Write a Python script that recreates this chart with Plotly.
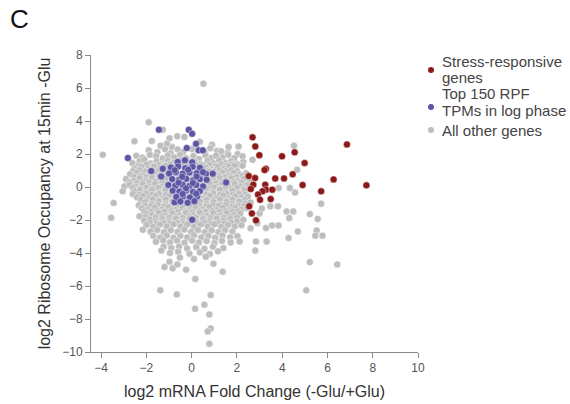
import plotly.graph_objects as go

# log2 mRNA fold change (x) vs log2 ribosome occupancy change (y)
stress_pts = [
    (2.69, 3.01), (2.81, 2.46), (2.99, 1.93), (6.86, 2.58), (3.99, 1.86), (4.55, 2.10),
    (4.99, 1.45), (3.28, 1.11), (3.22, 1.03), (2.52, 0.66), (2.80, 0.54), (3.69, 0.52),
    (4.08, 0.52), (4.46, 0.77), (6.27, 0.46), (7.72, 0.10), (4.90, 0.12), (2.72, 0.14),
    (3.25, 0.14), (2.61, -0.12), (3.28, -0.16), (3.56, -0.16), (3.13, -0.26), (2.93, -0.45),
    (5.72, -0.26), (3.49, -0.73), (3.02, -0.77), (2.54, -1.17), (2.66, -1.60), (2.84, -2.02),
]

top150_pts = [
    (-2.82, 1.76), (-1.45, 3.47), (-0.13, 3.47), (0.02, 3.23), (0.19, 2.62), (-0.22, 2.36),
    (0.31, 2.22), (0.49, 2.22), (-1.79, 0.97), (-1.28, 1.11), (-1.35, 0.64), (-1.03, 0.12),
    (1.52, 0.28), (0.93, 0.81), (0.63, 0.81), (0.02, -1.98), (-0.76, -0.93),
    (-0.62, 1.52), (-0.30, 1.62), (0.02, 1.50),
    (-0.92, 1.18), (-0.60, 1.24), (-0.28, 1.14), (0.04, 1.22), (0.36, 1.16),
    (-1.00, 0.82), (-0.70, 0.90), (-0.40, 0.80), (-0.10, 0.88), (0.22, 0.84), (0.50, 0.90),
    (-0.86, 0.48), (-0.56, 0.42), (-0.24, 0.50), (0.06, 0.40), (0.36, 0.48), (0.66, 0.44),
    (-0.72, 0.08), (-0.40, 0.14), (-0.10, 0.06), (0.20, 0.12), (0.50, 0.04),
    (-0.84, -0.22), (-0.54, -0.28), (-0.24, -0.20), (0.06, -0.30), (0.36, -0.24),
    (-0.68, -0.60), (-0.38, -0.56), (-0.08, -0.64), (0.24, -0.58),
    (-0.50, -0.88), (-0.18, -0.96), (0.12, -0.86),
    (-0.75, 1.02), (-0.15, 1.05), (-0.42, 0.62), (0.22, 0.64), (-0.58, 0.26),
    (0.05, 0.24), (-0.25, -0.08), (-0.40, -0.42), (0.20, -0.40),
]

other_pts = [
    # sparse upper region
    (0.52, 6.26), (-1.90, 3.92), (-0.64, 3.07), (-0.32, 3.03), (-1.28, 3.47), (-0.98, 2.95),
    (-2.53, 2.77), (-1.76, 2.79), (-1.38, 2.50), (-0.87, 2.42), (0.36, 2.74), (0.90, 2.56),
    (1.63, 2.42), (2.07, 2.46), (-1.10, 2.62), (-3.93, 1.96),
    # main cloud
    (-1.90, 2.22), (-1.52, 2.10), (-1.18, 2.30), (-0.93, 2.05), (-0.62, 2.28), (-0.38, 2.12),
    (0.02, 2.30), (0.58, 2.08), (0.82, 2.35), (1.12, 2.18), (1.30, 2.16), (1.59, 2.06), (2.03, 2.00),
    (-2.45, 1.90), (-2.18, 1.78), (-1.85, 1.95), (-1.57, 1.86), (-1.28, 1.72), (-1.05, 1.92),
    (-0.78, 1.80), (-0.52, 1.95), (-0.24, 1.75), (0.08, 1.88), (0.32, 1.70), (0.61, 1.93),
    (0.86, 1.76), (1.08, 1.90), (1.37, 1.80), (1.62, 1.95), (1.88, 1.74), (2.25, 1.86),
    (-2.62, 1.45), (-2.30, 1.58), (-2.09, 1.65), (-1.82, 1.42), (-1.55, 1.56), (-1.32, 1.40),
    (-1.06, 1.60), (-0.80, 1.48), (-0.48, 1.62), (-0.20, 1.45), (0.12, 1.55), (0.40, 1.40),
    (0.70, 1.58), (0.96, 1.44), (1.22, 1.60), (1.50, 1.46), (1.74, 1.56), (2.02, 1.40), (2.28, 1.52),
    (-2.35, 1.30), (-2.00, 1.36), (-1.70, 1.28), (-1.45, 1.34), (-1.20, 1.30), (-0.95, 1.38),
    (-0.70, 1.30), (-0.45, 1.36), (-0.15, 1.28), (0.18, 1.36), (0.48, 1.30), (0.78, 1.34),
    (1.05, 1.28), (1.30, 1.36), (1.55, 1.30), (1.80, 1.38), (2.10, 1.30),
    (-2.52, 1.10), (-2.22, 1.22), (-1.92, 1.08), (-1.66, 1.25), (-1.42, 1.12), (-1.16, 1.28),
    (-0.90, 1.06), (-0.62, 1.20), (-0.30, 1.10), (0.02, 1.24), (0.30, 1.08), (0.62, 1.18),
    (0.90, 1.05), (1.16, 1.22), (1.42, 1.10), (1.66, 1.25), (1.92, 1.12), (2.25, 1.29), (1.90, 1.29),
    (-2.60, 0.96), (-2.30, 1.02), (-2.05, 0.94), (-1.75, 1.00), (-1.50, 0.96), (-1.25, 1.02),
    (-1.00, 0.98), (0.75, 1.00), (1.00, 0.94), (1.25, 1.00), (1.50, 0.96), (1.75, 1.02), (2.00, 0.96),
    (-2.72, 0.78), (-2.42, 0.86), (-2.16, 0.72), (-1.86, 0.90), (-1.60, 0.76), (-1.30, 0.85),
    (-1.02, 0.70), (-0.72, 0.88), (-0.42, 0.74), (-0.12, 0.90), (0.20, 0.76), (0.50, 0.70),
    (0.80, 0.92), (1.10, 0.74), (1.36, 0.88), (1.60, 0.72), (1.86, 0.86), (2.12, 0.76), (2.40, 0.84),
    (-2.55, 0.62), (-2.28, 0.66), (-2.00, 0.58), (-1.72, 0.64), (-1.45, 0.60), (-1.15, 0.66),
    (0.95, 0.60), (1.22, 0.66), (1.48, 0.58), (1.72, 0.64), (2.00, 0.60), (2.25, 0.66),
    (-2.90, 0.48), (-2.56, 0.38), (-2.30, 0.52), (-2.02, 0.40), (-1.76, 0.55), (-1.46, 0.42),
    (-1.16, 0.50), (-0.86, 0.36), (-0.56, 0.52), (-0.26, 0.40), (0.06, 0.55), (0.36, 0.42),
    (0.66, 0.50), (0.96, 0.38), (1.24, 0.54), (1.50, 0.40), (1.76, 0.52), (2.02, 0.38),
    (2.30, 0.50), (2.56, 0.44),
    (-2.75, 0.28), (-2.42, 0.24), (-2.15, 0.30), (-1.88, 0.26), (-1.60, 0.32), (-1.30, 0.26),
    (0.80, 0.30), (1.08, 0.24), (1.36, 0.30), (1.62, 0.26), (1.88, 0.32), (2.20, 0.26),
    (-2.97, 0.04), (-2.74, 0.14), (-2.46, 0.02), (-2.16, 0.16), (-1.90, 0.06), (-1.62, 0.18),
    (-1.32, 0.02), (-1.00, 0.14), (-0.70, 0.04), (-0.40, 0.18), (-0.10, 0.02), (0.20, 0.15),
    (0.50, 0.05), (0.80, 0.16), (1.10, 0.02), (1.34, 0.14), (1.62, 0.06), (1.90, 0.18),
    (2.16, 0.04), (2.44, 0.12),
    (-2.60, -0.06), (-2.30, -0.10), (-2.00, -0.04), (-1.75, -0.10), (-1.47, -0.06), (-1.18, -0.12),
    (0.75, -0.08), (1.00, -0.04), (1.26, -0.10), (1.50, -0.06), (1.76, -0.12), (2.00, -0.06), (2.30, -0.10),
    (-3.05, -0.26), (-2.53, -0.26), (-2.28, -0.18), (-2.04, -0.32), (-1.76, -0.20), (-1.46, -0.34),
    (-1.16, -0.18), (-0.86, -0.30), (-0.56, -0.16), (-0.26, -0.34), (0.04, -0.20), (0.34, -0.32),
    (0.64, -0.18), (0.94, -0.30), (1.24, -0.16), (1.50, -0.32), (1.80, -0.22), (2.06, -0.34), (2.34, -0.20),
    (-2.60, -0.42), (-2.30, -0.46), (-2.02, -0.40), (-1.75, -0.46), (-1.45, -0.42), (-1.15, -0.48),
    (-0.85, -0.42), (0.65, -0.44), (0.95, -0.40), (1.25, -0.46), (1.55, -0.42), (1.80, -0.48),
    (2.10, -0.42), (2.38, -0.46),
    (-2.42, -0.62), (-2.16, -0.54), (-1.90, -0.68), (-1.60, -0.56), (-1.30, -0.70), (-1.00, -0.55),
    (-0.70, -0.66), (-0.40, -0.52), (-0.10, -0.68), (0.20, -0.56), (0.50, -0.70), (0.80, -0.54),
    (1.10, -0.66), (1.40, -0.52), (1.66, -0.68), (1.92, -0.56), (2.20, -0.64), (2.48, -0.58),
    (-2.25, -0.78), (-2.00, -0.82), (-1.72, -0.76), (-1.45, -0.80), (-1.15, -0.76), (-0.85, -0.82),
    (-0.55, -0.76), (-0.25, -0.80), (0.05, -0.74), (0.35, -0.80), (0.65, -0.78), (0.95, -0.82),
    (1.25, -0.76), (1.55, -0.80), (1.80, -0.76), (2.08, -0.82), (2.35, -0.78),
    (-3.45, -0.97), (-2.34, -1.11), (-2.06, -0.92), (-1.76, -1.02), (-1.46, -0.88), (-1.16, -1.04),
    (-0.86, -0.90), (-0.54, -1.06), (-0.24, -0.90), (0.06, -1.02), (0.36, -0.88), (0.66, -1.04),
    (0.96, -0.92), (1.26, -1.06), (1.54, -0.90), (1.80, -1.02), (2.10, -0.88), (2.36, -1.00), (2.60, -0.94),
    (-2.05, -1.12), (-1.80, -1.16), (-1.50, -1.10), (-1.20, -1.16), (-0.90, -1.12), (-0.60, -1.18),
    (-0.30, -1.10), (0.00, -1.16), (0.32, -1.12), (0.62, -1.18), (0.92, -1.10), (1.20, -1.14),
    (1.50, -1.10), (1.80, -1.18), (2.05, -1.12), (2.30, -1.16),
    (-2.20, -1.28), (-1.92, -1.38), (-1.62, -1.24), (-1.32, -1.36), (-1.02, -1.22), (-0.72, -1.38),
    (-0.42, -1.26), (-0.12, -1.40), (0.18, -1.24), (0.48, -1.36), (0.78, -1.22), (1.08, -1.38),
    (1.38, -1.26), (1.68, -1.40), (1.94, -1.24), (2.20, -1.36), (2.44, -1.28),
    (-2.10, -1.48), (-1.80, -1.52), (-1.50, -1.46), (-1.20, -1.50), (-0.90, -1.46), (-0.60, -1.52),
    (-0.28, -1.48), (0.02, -1.52), (0.34, -1.46), (0.62, -1.50), (0.92, -1.46), (1.22, -1.52),
    (1.50, -1.46), (1.80, -1.50), (2.05, -1.48),
    (-3.56, -1.86), (-2.31, -1.78), (-2.02, -1.62), (-1.76, -1.72), (-1.46, -1.58), (-1.16, -1.74),
    (-0.86, -1.60), (-0.56, -1.72), (-0.26, -1.58), (0.06, -1.70), (0.36, -1.56), (0.66, -1.74),
    (0.96, -1.60), (1.26, -1.72), (1.56, -1.58), (1.84, -1.70), (2.14, -1.60),
    (-2.05, -1.82), (-1.60, -1.86), (-1.30, -1.80), (-1.00, -1.86), (-0.70, -1.82), (-0.40, -1.88),
    (-0.10, -1.80), (0.20, -1.86), (0.50, -1.82), (0.82, -1.88), (1.12, -1.80), (1.42, -1.86),
    (1.70, -1.82), (2.00, -1.86),
    (-2.10, -2.04), (-1.86, -1.96), (-1.60, -2.08), (-1.30, -1.94), (-1.00, -2.06), (-0.70, -1.92),
    (-0.40, -2.08), (-0.10, -1.94), (0.22, -2.08), (0.50, -1.94), (0.80, -2.06), (1.10, -1.92),
    (1.40, -2.04), (1.70, -1.94), (2.00, -2.08), (2.28, -1.98),
    (-1.85, -2.18), (-1.55, -2.22), (-1.25, -2.16), (-0.95, -2.20), (-0.65, -2.16), (-0.35, -2.22),
    (-0.05, -2.16), (0.25, -2.20), (0.55, -2.16), (0.85, -2.22), (1.15, -2.18), (1.45, -2.20), (1.75, -2.16),
    (-2.00, -2.30), (-1.70, -2.42), (-1.40, -2.28), (-1.10, -2.40), (-0.80, -2.26), (-0.50, -2.40),
    (-0.20, -2.28), (0.10, -2.42), (0.40, -2.28), (0.70, -2.40), (1.00, -2.26), (1.30, -2.42),
    (1.60, -2.30), (1.90, -2.40), (2.20, -2.32),
    (-2.16, -2.59), (-1.82, -2.70), (-1.52, -2.60), (-1.22, -2.74), (-0.92, -2.62), (-0.62, -2.72),
    (-0.32, -2.58), (-0.02, -2.72), (0.28, -2.60), (0.58, -2.74), (0.88, -2.62), (1.18, -2.72),
    (1.48, -2.60), (1.80, -2.70),
    (-1.70, -2.96), (-1.40, -3.06), (-1.10, -2.94), (-0.80, -3.08), (-0.50, -2.96), (-0.20, -3.06),
    (0.10, -2.92), (0.42, -3.06), (0.74, -2.96), (1.04, -3.08), (1.36, -2.94), (1.70, -3.04), (2.02, -2.98),
    (-1.58, -3.32), (-1.26, -3.22), (-0.96, -3.36), (-0.64, -3.26), (-0.32, -3.38), (0.02, -3.24),
    (0.32, -3.36), (0.66, -3.28), (1.00, -3.40), (1.34, -3.26), (1.72, -3.36), (2.12, -3.30),
    (-1.24, -3.62), (-0.90, -3.70), (-0.56, -3.60), (-0.20, -3.72), (0.20, -3.64), (0.56, -3.74),
    (0.94, -3.62), (1.40, -3.70),
    (-1.34, -3.85), (-0.96, -4.00), (-0.60, -3.92), (-0.10, -4.04), (0.36, -3.96), (0.80, -4.06), (1.16, -3.90),
    (-0.98, -4.53), (-0.52, -4.28), (0.10, -4.36), (0.62, -4.22), (0.96, -4.65),
    (-0.84, -4.93), (-0.63, -4.69), (-1.20, -4.85), (-0.25, -5.01), (1.37, -5.13),
    # right side, among induced genes
    (2.69, 1.65), (4.52, 2.50), (4.66, 1.05), (3.84, -0.06), (4.34, -0.06), (4.57, -0.33),
    (3.81, -1.17), (3.47, -1.17), (4.19, -1.48), (4.49, -1.48), (4.31, -1.88), (5.22, -1.64),
    (5.57, -1.94), (5.72, -1.01), (5.52, -2.63), (5.78, -2.95), (5.46, -2.95), (4.69, -2.69),
    (4.28, -3.09), (3.55, -2.33), (3.84, -2.33), (3.28, -2.49), (3.31, -3.30), (2.84, -3.30),
    (2.81, -3.85), (5.22, -4.55), (6.43, -4.69), (5.06, -6.26), (3.00, -1.60), (2.90, -2.20),
    (2.60, -2.50), (3.10, -1.30),
    # lower tail
    (-1.39, -6.26), (-0.66, -6.51), (0.16, -5.58), (0.84, -6.55), (0.56, -7.13), (0.15, -7.38),
    (0.78, -7.72), (0.84, -8.57), (0.71, -8.75), (0.78, -9.50),
]

x_ticks = [-4, -2, 0, 2, 4, 6, 8, 10]
y_ticks = [-10, -8, -6, -4, -2, 0, 2, 4, 6, 8]

legend_labels = [
    ["Stress-responsive", "genes"],
    ["Top 150 RPF", "TPMs in log phase"],
    ["All other genes"],
]

RED = "rgb(140,26,26)"
BLUE = "rgb(92,86,164)"
GRAY = "rgb(190,190,190)"
FONT = "Liberation Sans, Arial, sans-serif"

W, H = 570, 404
ML, MR, MT, MB = 91, 152, 55, 52
PW, PH = W - ML - MR, H - MT - MB


def px_to_paper(px, py):
    return (px - ML) / PW, (H - MB - py) / PH


def scatter(pts, color):
    return go.Scatter(
        x=[p[0] for p in pts], y=[p[1] for p in pts], mode="markers",
        marker=dict(size=7, color=color, line=dict(width=0.6, color="rgba(255,255,255,0.7)")),
        showlegend=False, hoverinfo="skip",
    )


fig = go.Figure()
fig.add_trace(scatter(other_pts, GRAY))
fig.add_trace(scatter(top150_pts, BLUE))
fig.add_trace(scatter(stress_pts, RED))

axis_common = dict(
    showline=True, linecolor="#8a8a8a", linewidth=1, mirror=False,
    ticks="outside", ticklen=5, tickcolor="#8a8a8a", tickwidth=1,
    showgrid=False, zeroline=False,
    tickfont=dict(family=FONT, size=12, color="#555555"),
)

fig.update_xaxes(
    range=[-4.45, 10], tickvals=x_ticks, **axis_common,
    title=dict(text="log2 mRNA Fold Change (-Glu/+Glu)", standoff=11,
               font=dict(family=FONT, size=16, color="#333333")),
)
fig.update_yaxes(
    range=[-10, 8], tickvals=y_ticks, **axis_common,
    title=dict(text="log2 Ribosome Occupancy at 15min -Glu", standoff=7,
               font=dict(family=FONT, size=16, color="#333333")),
)

annotations = []
shapes = []
# panel letter
lx, ly = px_to_paper(8, 19)
annotations.append(dict(text="C", x=lx, y=ly, xref="paper", yref="paper",
                        xanchor="left", yanchor="middle", showarrow=False,
                        font=dict(family=FONT, size=26, color="#111111")))

# legend entries
legend_colors = [RED, BLUE, GRAY]
dot_y = [70, 107, 130]
line_y = [[61, 77], [94, 110], [130]]
for labels, color, dy, ys in zip(legend_labels, legend_colors, dot_y, line_y):
    x0, y0 = px_to_paper(428, dy + 3)
    x1, y1 = px_to_paper(434, dy - 3)
    shapes.append(dict(type="circle", xref="paper", yref="paper", x0=x0, x1=x1, y0=y0, y1=y1,
                       fillcolor=color, line=dict(width=0)))
    for text, yy in zip(labels, ys):
        tx, ty = px_to_paper(440, yy)
        annotations.append(dict(text=text, x=tx, y=ty, xref="paper", yref="paper",
                                xanchor="left", yanchor="middle", showarrow=False,
                                font=dict(family=FONT, size=15, color="#444444")))

fig.update_layout(
    width=W, height=H,
    margin=dict(l=ML, r=MR, t=MT, b=MB, autoexpand=False),
    paper_bgcolor="white", plot_bgcolor="white",
    annotations=annotations, shapes=shapes,
)

fig.write_html("out.html")
